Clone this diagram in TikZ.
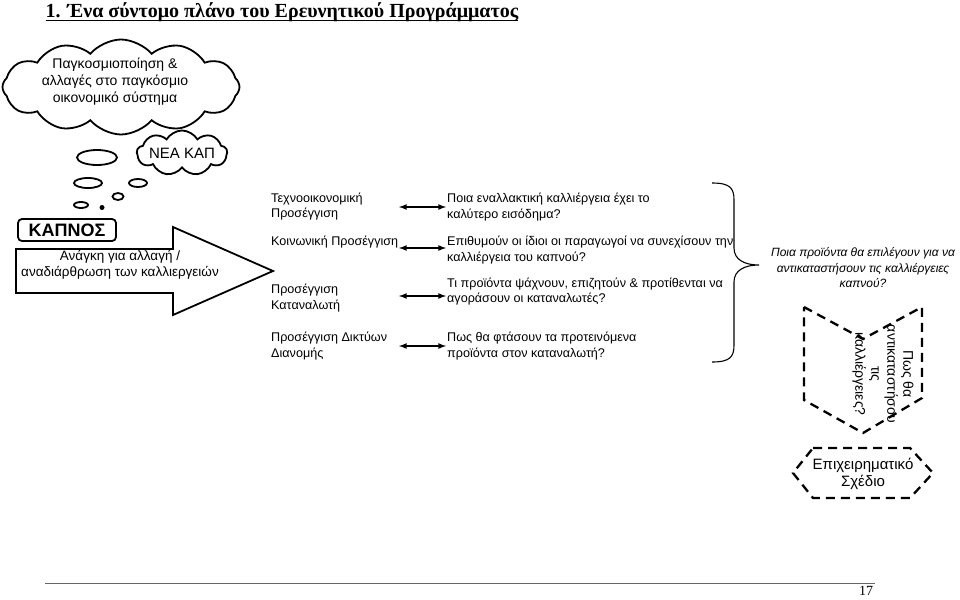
\documentclass[tikz,border=0pt]{standalone}
\usepackage{fontspec}
\setmainfont{Liberation Sans}
\newfontfamily\titlefont{Liberation Serif}
\usetikzlibrary{arrows,shapes,positioning}
\tikzstyle{txt}=[
	inner sep=1pt,
	align=left,
	anchor=west,
	font=\fontsize{12.6}{15.5}\selectfont
]
\tikzstyle{bubble}=[
	ellipse,
	draw=black,
	line width=1.8pt,
	inner sep=0pt
]
\tikzstyle{puff}=[
	cloud,
	cloud ignores aspect,
	draw=black,
	line width=1.8pt,
	align=center,
	inner sep=0pt
]
\tikzstyle{dblarrow}=[
	latex-latex,
	line width=1.6pt,
	draw=black
]
\tikzstyle{dashbox}=[
	draw=black,
	line width=2.3pt,
	dash pattern=on 9pt off 6pt
]

\begin{document}
\begin{tikzpicture}[x=1pt,y=-1pt]
\useasboundingbox[fill=white] (0,0) rectangle (960,599);

\node[inner sep=0pt, font=\titlefont\bfseries\fontsize{20}{22}\selectfont] (title) at (282,12) {1. Ένα σύντομο πλάνο του Ερευνητικού Προγράμματος};
\draw[line width=1.3pt] ([yshift=-3pt]title.base west) -- ([yshift=-3pt]title.base east);

\node[puff, cloud puffs=12, cloud puff arc=100, minimum width=237pt, minimum height=95pt] (glob) at (121,87) {};
\node[align=center, font=\fontsize{14}{17}\selectfont] (globtxt) at (115,82) {Παγκοσμιοποίηση \&\\αλλαγές στο παγκόσμιο\\οικονομικό σύστημα};
\node[puff, cloud puffs=9, cloud puff arc=120, minimum width=90pt, minimum height=45pt,
      font=\fontsize{15}{17}\selectfont] (kap) at (182,153) {ΝΕΑ ΚΑΠ};

\node[bubble, minimum width=40pt, minimum height=15pt] (b1) at (97,157.5) {};
\node[bubble, minimum width=28pt, minimum height=10pt] (b2) at (88,183) {};
\node[bubble, minimum width=18pt, minimum height=8pt] (b3) at (138,183) {};
\node[bubble, minimum width=11pt, minimum height=7pt] (b4) at (118,196.5) {};
\node[bubble, minimum width=14pt, minimum height=6pt] (b5) at (81,205) {};
\node[circle, fill=black, inner sep=0pt, minimum size=5pt] (b6) at (102,207.5) {};

\node[draw=black, line width=1.8pt, rounded corners=4pt, inner sep=0pt, minimum width=98pt, minimum height=22pt,
      font=\bfseries\fontsize{18}{19}\selectfont] (kapnos) at (67,230) {ΚΑΠΝΟΣ};

\draw[line width=1.8pt] (16,249) -- (173,249) -- (173,227) -- (273,271) -- (173,315) -- (173,293) -- (16,293) -- cycle;
\node[align=center, font=\fontsize{13.5}{16}\selectfont] (need) at (120,265) {Ανάγκη για αλλαγή /\\αναδιάρθρωση των καλλιεργειών};

\node[txt] (ap1) at (270,206.5) {Τεχνοοικονομική\\Προσέγγιση};
\node[txt] (ap2) at (270,242) {Κοινωνική Προσέγγιση};
\node[txt] (ap3) at (270,298) {Προσέγγιση\\Καταναλωτή};
\node[txt] (ap4) at (270,346) {Προσέγγιση Δικτύων\\Διανομής};

\node[txt] (q1) at (446,207) {Ποια εναλλακτική καλλιέργεια έχει το\\καλύτερο εισόδημα?};
\node[txt] (q2) at (446,250) {Επιθυμούν οι ίδιοι οι παραγωγοί να συνεχίσουν την\\καλλιέργεια του καπνού?};
\node[txt] (q3) at (446,291.5) {Τι προϊόντα ψάχνουν, επιζητούν \& προτίθενται να\\αγοράσουν οι καταναλωτές?};
\node[txt] (q4) at (446,346) {Πως θα φτάσουν τα προτεινόμενα\\προϊόντα στον καταναλωτή?};

\foreach \i/\y in {1/207,2/248,3/296,4/346} {
    \coordinate (a\i) at (399,\y);
    \draw[dblarrow] (a\i) -- (q\i.west |- a\i);
}

\draw[line width=1.1pt] (712,183) .. controls (730,183) and (734,188) .. (734,200) -- (734,248)
    .. controls (734,260) and (745,265) .. (759,265)
    .. controls (745,265) and (734,270) .. (734,282) -- (734,345)
    .. controls (734,357) and (730,362) .. (712,362);

\node[align=center, font=\itshape\fontsize{12}{15.5}\selectfont] (choose) at (863,268) {Ποια προϊόντα θα επιλέγουν για να\\αντικαταστήσουν τις καλλιέργειες\\καπνού?};

\draw[dashbox] (804,307) -- (863,339) -- (922,307) -- (922,398) -- (863,433) -- (804,400) -- cycle;
\node[rotate=-90, align=center, font=\fontsize{14}{16}\selectfont] (replace) at (883,374) {Πως θα\\αντικαταστήσου\\τις\\καλλιέργειες?};

\draw[dashbox] (813,448) -- (910,448) -- (933,473) -- (910,498) -- (813,498) -- (793,473) -- cycle;
\node[align=center, font=\fontsize{15}{17}\selectfont] (plan) at (863,474) {Επιχειρηματικό\\Σχέδιο};

\draw[draw=black!60, line width=1pt] (45,583) -- (875,583);
\node[font=\titlefont\fontsize{14}{16}\selectfont] (pnum) at (866,591) {17};
\end{tikzpicture}
\end{document}
